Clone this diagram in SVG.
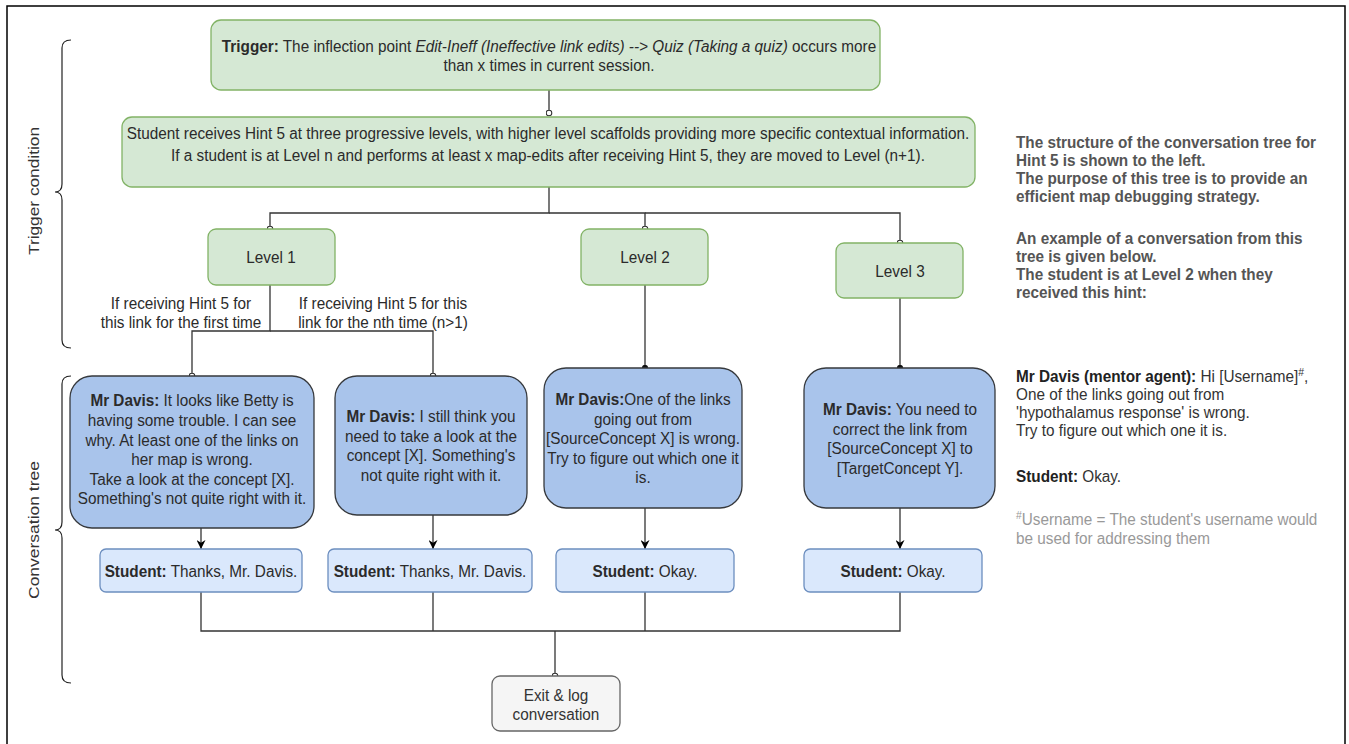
<svg xmlns="http://www.w3.org/2000/svg" width="1349" height="744" viewBox="0 0 1349 744">
<style>
text{font-family:"Liberation Sans",Arial,sans-serif;font-size:16.2px;fill:#2b2b2b;text-anchor:middle}
.b{font-weight:bold}
.i{font-style:italic}
.conn{fill:none;stroke:#333;stroke-width:1.3}
.brace{fill:none;stroke:#222;stroke-width:1.2}
.green{fill:#d5e8d4;stroke:#82b366;stroke-width:1.3}
.blue{fill:#a9c4eb;stroke:#36393d;stroke-width:1.3}
.lblue{fill:#dae8fc;stroke:#6c8ebf;stroke-width:1.3}
.gray{fill:#f5f5f5;stroke:#666;stroke-width:1.3}
.side{text-anchor:start;fill:#555;font-weight:bold}
.note{text-anchor:start;fill:#333}
.foot{text-anchor:start;fill:#999}
.lab{fill:#333;font-size:15px}
</style>
<defs>
<marker id="oval" viewBox="0 0 10 10" refX="5" refY="5" markerWidth="7" markerHeight="7" markerUnits="userSpaceOnUse" orient="auto"><circle cx="5" cy="5" r="4" fill="#fff" stroke="#333" stroke-width="1.5"/></marker>
<marker id="dot" viewBox="0 0 10 10" refX="5" refY="5" markerWidth="7" markerHeight="7" markerUnits="userSpaceOnUse" orient="auto"><circle cx="5" cy="5" r="4.5" fill="#111"/></marker>
<marker id="arr" viewBox="0 0 10 10" refX="10" refY="5" markerWidth="9" markerHeight="9" markerUnits="userSpaceOnUse" orient="auto"><path d="M0,0 L10,5 L0,10 L3,5 Z" fill="#000"/></marker>
</defs>
<rect x="7" y="6" width="1338" height="745" fill="#fff" stroke="#000" stroke-width="1.5"/>

<g id="braces">
<path class="brace" d="M71,40 Q62,40 62,48 L62,184 Q62,192 55,192 Q62,192 62,200 L62,340 Q62,348 71,348"/>
<path class="brace" d="M71,376 Q62,376 62,384 L62,522 Q62,530 55,530 Q62,530 62,538 L62,675 Q62,683 71,683"/>
<text class="lab" transform="translate(39,191) rotate(-90)" textLength="128" lengthAdjust="spacingAndGlyphs">Trigger condition</text>
<text class="lab" transform="translate(39,530) rotate(-90)" textLength="138" lengthAdjust="spacingAndGlyphs">Conversation tree</text>
</g>

<g id="connectors">
<path class="conn" d="M549,90 L549,113" marker-end="url(#oval)"/>
<path class="conn" d="M549,187 L549,213 L270,213 L270,229" marker-end="url(#oval)"/>
<path class="conn" d="M549,213 L645,213 L645,229" marker-end="url(#oval)"/>
<path class="conn" d="M645,213 L900,213 L900,243" marker-end="url(#oval)"/>
<path class="conn" d="M270,285 L270,331 L192,331 L192,376" marker-end="url(#oval)"/>
<path class="conn" d="M270,331 L433,331 L433,376" marker-end="url(#oval)"/>
<path class="conn" d="M645,285 L645,368" marker-end="url(#dot)"/>
<path class="conn" d="M900,298 L900,368" marker-end="url(#dot)"/>
<path class="conn" d="M201,528 L201,549" marker-end="url(#arr)"/>
<path class="conn" d="M433,515 L433,549" marker-end="url(#arr)"/>
<path class="conn" d="M645,508 L645,549" marker-end="url(#arr)"/>
<path class="conn" d="M900,508 L900,549" marker-end="url(#arr)"/>
<path class="conn" d="M201,592 L201,631 L900,631 L900,592"/>
<path class="conn" d="M433,592 L433,631"/>
<path class="conn" d="M645,592 L645,631"/>
<path class="conn" d="M555,631 L555,676" marker-end="url(#oval)"/>
<g transform="translate(181,0) scale(.945,1)">
<text x="0" y="309">If receiving Hint 5 for</text>
<text x="0" y="328">this link for the first time</text>
</g>
<g transform="translate(383,0) scale(.945,1)">
<text x="0" y="309">If receiving Hint 5 for this</text>
<text x="0" y="328">link for the nth time (n&gt;1)</text>
</g>
</g>

<g id="trigger">
<rect class="green" x="211" y="20" width="669" height="70" rx="10"/>
<g transform="translate(549,0) scale(.945,1)">
<text x="0" y="52"><tspan class="b">Trigger:</tspan> The inflection point <tspan class="i">Edit-Ineff (Ineffective link edits) --&gt; Quiz (Taking a quiz)</tspan> occurs more</text>
<text x="0" y="71">than x times in current session.</text>
</g>
</g>

<g id="hint5">
<rect class="green" x="122" y="117" width="853" height="70" rx="10"/>
<g transform="translate(548,0) scale(.945,1)">
<text x="0" y="139">Student receives Hint 5 at three progressive levels, with higher level scaffolds providing more specific contextual information.</text>
<text x="0" y="161">If a student is at Level n and performs at least x map-edits after receiving Hint 5, they are moved to Level (n+1).</text>
</g>
</g>

<g id="level1">
<rect class="green" x="208" y="229" width="127" height="56" rx="8"/>
<text transform="translate(271,263) scale(.945,1)">Level 1</text>
</g>
<g id="level2">
<rect class="green" x="581" y="229" width="127" height="56" rx="8"/>
<text transform="translate(645,263) scale(.945,1)">Level 2</text>
</g>
<g id="level3">
<rect class="green" x="836" y="243" width="127" height="55" rx="8"/>
<text transform="translate(900,277) scale(.945,1)">Level 3</text>
</g>

<g id="davis1">
<rect class="blue" x="70" y="376" width="244" height="152" rx="22"/>
<g transform="translate(192,0) scale(.945,1)">
<text x="0" y="406"><tspan class="b">Mr Davis:</tspan> It looks like Betty is</text>
<text x="0" y="426">having some trouble. I can see</text>
<text x="0" y="446">why. At least one of the links on</text>
<text x="0" y="465">her map is wrong.</text>
<text x="0" y="485">Take a look at the concept [X].</text>
<text x="0" y="504">Something's not quite right with it.</text>
</g>
</g>
<g id="davis2">
<rect class="blue" x="335" y="376" width="192" height="139" rx="22"/>
<g transform="translate(431,0) scale(.945,1)">
<text x="0" y="422"><tspan class="b">Mr Davis:</tspan> I still think you</text>
<text x="0" y="442">need to take a look at the</text>
<text x="0" y="461">concept [X]. Something's</text>
<text x="0" y="481">not quite right with it.</text>
</g>
</g>
<g id="davis3">
<rect class="blue" x="544" y="368" width="198" height="140" rx="22"/>
<g transform="translate(643,0) scale(.945,1)">
<text x="0" y="405"><tspan class="b">Mr Davis:</tspan>One of the links</text>
<text x="0" y="425">going out from</text>
<text x="0" y="444">[SourceConcept X] is wrong.</text>
<text x="0" y="464">Try to figure out which one it</text>
<text x="0" y="483">is.</text>
</g>
</g>
<g id="davis4">
<rect class="blue" x="804" y="368" width="191" height="140" rx="22"/>
<g transform="translate(900,0) scale(.945,1)">
<text x="0" y="415"><tspan class="b">Mr Davis:</tspan> You need to</text>
<text x="0" y="435">correct the link from</text>
<text x="0" y="454">[SourceConcept X] to</text>
<text x="0" y="474">[TargetConcept Y].</text>
</g>
</g>

<g id="student1">
<rect class="lblue" x="100" y="549" width="202" height="43" rx="6"/>
<text transform="translate(201,577) scale(.945,1)"><tspan class="b">Student:</tspan> Thanks, Mr. Davis.</text>
</g>
<g id="student2">
<rect class="lblue" x="328" y="549" width="204" height="43" rx="6"/>
<text transform="translate(430,577) scale(.945,1)"><tspan class="b">Student:</tspan> Thanks, Mr. Davis.</text>
</g>
<g id="student3">
<rect class="lblue" x="556" y="549" width="178" height="43" rx="6"/>
<text transform="translate(645,577) scale(.945,1)"><tspan class="b">Student:</tspan> Okay.</text>
</g>
<g id="student4">
<rect class="lblue" x="804" y="549" width="178" height="43" rx="6"/>
<text transform="translate(893,577) scale(.945,1)"><tspan class="b">Student:</tspan> Okay.</text>
</g>

<g id="exit">
<rect class="gray" x="492" y="676" width="128" height="55" rx="8"/>
<g transform="translate(556,0) scale(.945,1)">
<text x="0" y="701" style="fill:#333">Exit &amp; log</text>
<text x="0" y="720" style="fill:#333">conversation</text>
</g>
</g>

<g id="notes" transform="translate(1016,0) scale(.945,1)">
<text class="side" x="0" y="148">The structure of the conversation tree for</text>
<text class="side" x="0" y="166">Hint 5 is shown to the left.</text>
<text class="side" x="0" y="184">The purpose of this tree is to provide an</text>
<text class="side" x="0" y="202">efficient map debugging strategy.</text>
<text class="side" x="0" y="244">An example of a conversation from this</text>
<text class="side" x="0" y="262">tree is given below.</text>
<text class="side" x="0" y="280">The student is at Level 2 when they</text>
<text class="side" x="0" y="298">received this hint:</text>
<text class="note" x="0" y="382"><tspan class="b" style="fill:#222">Mr Davis (mentor agent):</tspan> Hi [Username]<tspan font-size="11" dy="-6">#</tspan><tspan dy="6">,</tspan></text>
<text class="note" x="0" y="400">One of the links going out from</text>
<text class="note" x="0" y="418">'hypothalamus response' is wrong.</text>
<text class="note" x="0" y="436">Try to figure out which one it is.</text>
<text class="note" x="0" y="482"><tspan class="b" style="fill:#222">Student:</tspan> Okay.</text>
<text class="foot" x="0" y="525"><tspan font-size="11" dy="-6">#</tspan><tspan dy="6">Username = The student's username would</tspan></text>
<text class="foot" x="0" y="544">be used for addressing them</text>
</g>
</svg>
